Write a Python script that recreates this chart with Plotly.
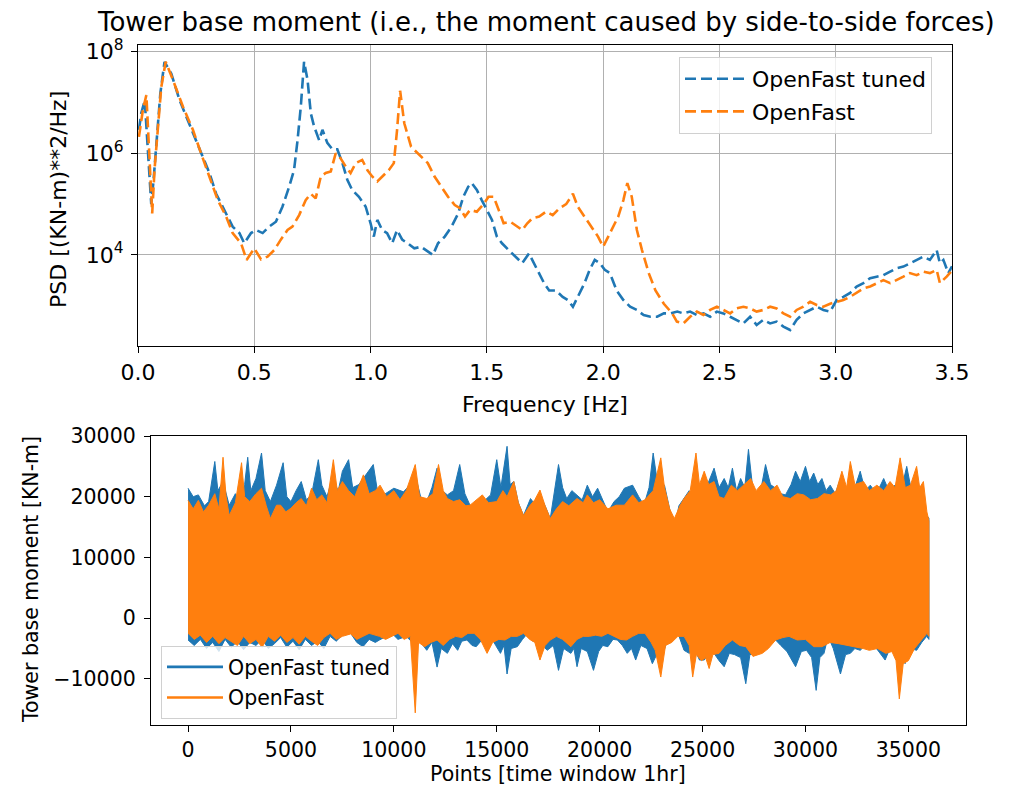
import plotly.graph_objects as go

# ---------------- PSD data ----------------
freq_tuned = [0.004, 0.014, 0.029, 0.039, 0.047, 0.057, 0.067, 0.081, 0.096, 0.114,
              0.143, 0.179, 0.214, 0.25, 0.279, 0.307, 0.336, 0.364, 0.386, 0.407,
              0.436, 0.457, 0.486, 0.507, 0.536, 0.564, 0.593, 0.621, 0.65, 0.671,
              0.686, 0.70, 0.714, 0.729, 0.743, 0.757, 0.779, 0.793, 0.814, 0.836,
              0.857, 0.879, 0.90, 0.921, 0.95, 0.979, 1.0, 1.014, 1.029, 1.05,
              1.071, 1.093, 1.114, 1.136, 1.159, 1.188, 1.217, 1.246, 1.268, 1.29,
              1.319, 1.348, 1.377, 1.399, 1.42, 1.435, 1.457, 1.478, 1.5, 1.522,
              1.543, 1.565, 1.594, 1.623, 1.652, 1.681, 1.703, 1.725, 1.746, 1.768,
              1.797, 1.826, 1.848, 1.87, 1.899, 1.92, 1.942, 1.964, 1.986, 2.007,
              2.029, 2.058, 2.087, 2.116, 2.145, 2.174, 2.203, 2.232, 2.261, 2.29,
              2.319, 2.345, 2.374, 2.403, 2.431, 2.46, 2.489, 2.517, 2.546, 2.574,
              2.603, 2.632, 2.66, 2.689, 2.718, 2.746, 2.775, 2.804, 2.832, 2.861,
              2.89, 2.918, 2.947, 2.976, 3.004, 3.033, 3.062, 3.09, 3.119, 3.148,
              3.176, 3.205, 3.234, 3.262, 3.291, 3.319, 3.348, 3.377, 3.405, 3.434,
              3.448, 3.463, 3.484, 3.5]
psd_tuned = [2.9e6, 6.1e6, 1.1e7, 2.1e6, 4.1e5, 1.0e5, 3.0e5, 2.1e6, 1.5e7, 6.3e7,
             3.7e7, 1.1e7, 4.5e6, 1.8e6, 8.6e5, 4.1e5, 1.6e5, 8.9e4, 5.7e4, 3.6e4,
             2.7e4, 1.7e4, 2.7e4, 3.1e4, 2.7e4, 3.6e4, 4.5e4, 8.9e4, 2.2e5, 4.7e5,
             1.8e6, 8.3e6, 6.3e7, 2.8e7, 6.1e6, 3.4e6, 1.8e6, 2.9e6, 1.6e6, 1.2e6,
             1.2e6, 6.4e5, 3.0e5, 1.9e5, 1.4e5, 8.9e4, 4.2e4, 2.3e4, 4.9e4, 3.1e4,
             2.7e4, 1.7e4, 3.1e4, 2.0e4, 1.7e4, 1.35e4, 1.45e4, 1.15e4, 1.0e4, 1.7e4,
             2.3e4, 3.6e4, 6.6e4, 1.4e5, 2.2e5, 2.6e5, 1.9e5, 1.2e5, 7.7e4, 4.9e4,
             2.3e4, 1.7e4, 1.25e4, 9.3e3, 6.9e3, 1.07e4, 6.9e3, 4.4e3, 2.8e3, 2.0e3,
             2.0e3, 1.5e3, 1.3e3, 9.6e2, 1.8e3, 2.8e3, 5.1e3, 8.0e3, 6.9e3, 5.1e3,
             4.4e3, 2.0e3, 1.3e3, 9.6e2, 8.3e2, 6.6e2, 6.1e2, 6.1e2, 7.1e2, 7.1e2,
             7.7e2, 7.1e2, 7.7e2, 6.6e2, 7.1e2, 6.1e2, 7.7e2, 7.1e2, 6.1e2, 5.3e2,
             4.5e2, 6.1e2, 4.2e2, 5.3e2, 4.5e2, 4.9e2, 3.9e2, 3.35e2, 5.3e2, 7.1e2,
             8.3e2, 9.6e2, 8.3e2, 7.7e2, 1.3e3, 1.5e3, 1.8e3, 2.4e3, 2.8e3, 3.5e3,
             3.75e3, 4.0e3, 4.7e3, 5.5e3, 5.9e3, 6.9e3, 8.0e3, 9.3e3, 8.0e3, 1.25e4,
             6.9e3, 8.0e3, 4.4e3, 6.0e3]

freq_base = [0.004, 0.021, 0.036, 0.044, 0.053, 0.061, 0.071, 0.086, 0.10, 0.119,
             0.15, 0.193, 0.236, 0.271, 0.307, 0.343, 0.379, 0.407, 0.443, 0.467,
             0.50, 0.529, 0.557, 0.586, 0.614, 0.643, 0.664, 0.693, 0.721, 0.743,
             0.764, 0.786, 0.807, 0.829, 0.85, 0.871, 0.893, 0.914, 0.936, 0.964,
             0.986, 1.007, 1.029, 1.05, 1.079, 1.10, 1.114, 1.127, 1.145, 1.174,
             1.217, 1.246, 1.275, 1.304, 1.333, 1.362, 1.384, 1.406, 1.428, 1.457,
             1.486, 1.507, 1.529, 1.551, 1.572, 1.601, 1.630, 1.652, 1.674, 1.696,
             1.725, 1.754, 1.783, 1.812, 1.841, 1.870, 1.891, 1.920, 1.949, 1.978,
             2.0, 2.022, 2.043, 2.065, 2.087, 2.104, 2.123, 2.145, 2.167, 2.196,
             2.225, 2.261, 2.297, 2.317, 2.345, 2.374, 2.403, 2.431, 2.46, 2.489,
             2.517, 2.546, 2.574, 2.603, 2.632, 2.66, 2.689, 2.718, 2.746, 2.775,
             2.804, 2.832, 2.861, 2.89, 2.918, 2.947, 2.976, 3.004, 3.033, 3.062,
             3.09, 3.119, 3.148, 3.176, 3.205, 3.234, 3.262, 3.291, 3.319, 3.348,
             3.377, 3.405, 3.434, 3.448, 3.477, 3.503]
psd_base = [2.1e6, 7.1e6, 1.4e7, 2.9e6, 4.1e5, 6.6e4, 4.7e5, 3.3e6, 2.0e7, 6.3e7,
            2.8e7, 8.3e6, 2.9e6, 1.0e6, 3.5e5, 1.2e5, 5.7e4, 2.7e4, 1.7e4, 8.0e3,
            1.35e4, 8.2e3, 9.3e3, 1.25e4, 2.0e4, 3.1e4, 3.6e4, 6.1e4, 1.2e5, 1.6e5,
            1.3e5, 3.5e5, 4.1e5, 4.4e5, 1.0e6, 8.0e5, 5.5e5, 4.1e5, 6.4e5, 7.4e5,
            4.7e5, 3.5e5, 2.8e5, 3.5e5, 4.7e5, 6.4e5, 2.9e6, 1.7e7, 3.9e6, 1.35e6,
            8.6e5, 6.4e5, 3.5e5, 2.2e5, 1.4e5, 9.6e4, 8.3e4, 5.7e4, 7.7e4, 7.1e4,
            1.0e5, 1.4e5, 1.4e5, 7.7e4, 4.2e4, 4.5e4, 3.6e4, 3.1e4, 4.2e4, 5.3e4,
            5.7e4, 7.1e4, 6.1e4, 8.3e4, 1.0e5, 1.6e5, 8.9e4, 5.7e4, 3.6e4, 2.3e4,
            1.45e4, 2.3e4, 3.6e4, 5.7e4, 1.2e5, 2.6e5, 1.4e5, 3.1e4, 1.25e4, 4.4e3,
            2.0e3, 1.1e3, 7.1e2, 4.9e2, 4.5e2, 6.1e2, 7.7e2, 6.6e2, 8.3e2, 9.6e2,
            8.3e2, 7.1e2, 8.9e2, 9.6e2, 8.9e2, 7.7e2, 8.3e2, 9.6e2, 8.9e2, 7.1e2,
            6.1e2, 8.3e2, 9.6e2, 1.2e3, 1.04e3, 9.6e2, 1.1e3, 1.2e3, 1.3e3, 1.5e3,
            1.8e3, 2.2e3, 2.4e3, 2.8e3, 3.2e3, 2.8e3, 3.2e3, 3.75e3, 4.4e3, 4.0e3,
            4.7e3, 4.4e3, 5.1e3, 2.8e3, 3.75e3, 5.1e3]

# ---------------- time-series envelopes ----------------
tuned_top_x = [0, 250, 500, 800, 1000, 1300, 1450, 1700, 2000, 2300, 2500, 2750, 2900, 3050, 3300, 3570, 3750,
               4000, 4300, 4620, 4800, 5000, 5250, 5500, 5750, 6000, 6330, 6500, 6750, 7000, 7300, 7500, 7800,
               8000, 8300, 8520, 9000, 9200, 9500, 10000, 10470, 10800, 11000, 11300, 11600, 11850, 12100,
               12350, 12600, 12900, 13200, 13450, 13700, 14200, 14450, 14700, 15000, 15200, 15500, 15650,
               15830, 16050, 16300, 16640, 16900, 17100, 17350, 17600, 17800, 18000, 18200, 18400, 18650,
               18900, 19150, 19400, 19650, 19900, 20150, 20400, 20700, 20950, 21200, 21600, 21900, 22150,
               22400, 22600, 22800, 23150, 23400, 23630, 23850, 24100, 24350, 24600, 24850, 25080, 25300,
               25560, 25800, 26050, 26250, 26450, 26650, 26850, 27050, 27230, 27450, 27660, 27850, 28060,
               28300, 28550, 28800, 29030, 29300, 29520, 29750, 30000, 30200, 30400, 30600, 30800, 31000,
               31200, 31450, 31700, 31950, 32180, 32400, 32660, 32900, 33150, 33450, 33800, 34050, 34350,
               34650, 34920, 35150, 35400, 35650, 35890, 35999]
tuned_top_y = [21400, 20000, 20300, 18500, 19200, 25800, 21000, 22500, 18600, 20500, 19700, 22000, 26500, 21000,
               23000, 27200, 21000, 19200, 21900, 25600, 20000, 19200, 21000, 22500, 19500, 20300, 26100, 21900,
               20000, 23000, 21000, 24200, 26100, 21500, 22000, 23000, 25300, 21000, 20300, 21400, 20800, 22000,
               24200, 20000, 19200, 21500, 24700, 21000, 20300, 21000, 25300, 20500, 18600, 18100, 19500, 20300,
               26100, 21500, 28300, 22000, 22500, 19000, 16900, 19700, 18500, 20300, 18500, 16400, 20500, 25300,
               21500, 19700, 21000, 20300, 19500, 21900, 20000, 21400, 19500, 17500, 19200, 20000, 21400, 21900,
               20000, 18600, 21500, 27200, 22500, 21900, 18000, 14700, 18500, 19700, 21000, 19200, 21500, 21900,
               22500, 24700, 21500, 23000, 21500, 24700, 21000, 23000, 21500, 27800, 21000, 19200, 21500, 25300,
               22000, 21400, 20500, 20300, 22000, 24200, 22500, 25000, 22500, 23900, 22000, 23000, 21000, 21900,
               20500, 23000, 21000, 21400, 21500, 24200, 21000, 21900, 20500, 23000, 21000, 21900, 21000, 25000,
               21000, 20300, 19500, 16900, 16500]
tuned_bot_x = [0, 300, 600, 900, 1200, 1500, 1800, 2100, 2400, 2700, 3000, 3300, 3600, 3900, 4200, 4500, 4800,
               5100, 5400, 5700, 6000, 6300, 6600, 6900, 7200, 7500, 7900, 8200, 8500, 8800, 9100, 9300, 9600,
               9900, 10200, 10600, 10900, 11200, 11600, 11850, 12100, 12300, 12600, 12850, 13100, 13300, 13550,
               13800, 14000, 14300, 14700, 14950, 15180, 15350, 15500, 15700, 16000, 16250, 16500, 16750, 17000,
               17250, 17450, 17750, 18000, 18250, 18600, 18750, 18900, 19100, 19400, 19700, 19950, 20150, 20400,
               20650, 20860, 21100, 21340, 21550, 21750, 22000, 22300, 22560, 22800, 23130, 23400, 23650, 23850,
               24100, 24350, 24600, 24850, 25080, 25300, 25560, 25800, 26050, 26300, 26550, 26850, 27100, 27300,
               27660, 27900, 28060, 28300, 28550, 28800, 29100, 29520, 29800, 30050, 30300, 30520, 30700, 30900,
               31100, 31350, 31700, 31950, 32180, 32400, 32660, 32900, 33150, 33450, 33870, 34100, 34350, 34600,
               34840, 35100, 35400, 35650, 35890, 35999]
tuned_bot_y = [-3600, -4500, -3500, -5000, -4000, -5500, -3500, -4800, -3800, -5200, -4000, -4500, -3500, -5000,
               -4200, -3200, -4800, -3800, -5200, -3500, -4500, -3800, -5000, -3000, -3800, -2800, -2500, -4000,
               -4700, -3500, -4000, -3600, -3000, -2500, -3500, -3000, -4000, -3500, -5300, -4000, -8060, -5000,
               -5800, -4200, -5300, -3800, -3600, -4500, -4700, -3500, -3000, -4500, -5800, -4500, -9200, -5000,
               -4700, -3500, -2500, -3800, -3600, -4500, -5300, -4500, -8600, -5000, -5800, -5000, -8000, -5000,
               -5500, -8600, -5500, -4500, -4700, -3500, -3600, -4500, -5800, -5000, -6900, -4500, -5000, -7500,
               -5800, -5300, -2500, -1000, -3000, -5300, -5800, -5000, -6900, -6900, -5800, -5800, -7000, -8000,
               -5800, -6000, -6500, -10800, -6000, -5800, -5000, -4700, -4200, -3600, -4500, -5500, -8000, -5500,
               -5300, -6500, -11900, -6500, -5800, -3000, -5000, -9200, -6000, -5800, -5000, -5300, -4500, -4200,
               -5000, -6900, -5000, -5300, -5000, -7500, -5000, -5300, -4000, -3000, -3500]

base_top_x = [0, 250, 500, 750, 1000, 1300, 1500, 1700, 1850, 2000, 2300, 2600, 2750, 3000, 3300, 3570, 3800,
              4000, 4300, 4500, 4750, 5000, 5250, 5500, 5750, 6000, 6250, 6500, 6750, 7060, 7250, 7500, 7800,
              8100, 8520, 8800, 9100, 9330, 9650, 10000, 10300, 10600, 11040, 11250, 11600, 11900, 12170, 12400,
              12600, 12900, 13200, 13500, 13700, 14000, 14300, 14600, 15000, 15300, 15500, 15830, 16050, 16300,
              16600, 16850, 17100, 17350, 17600, 17900, 18200, 18500, 18900, 19200, 19400, 19700, 20000, 20400,
              20800, 21200, 21600, 21900, 22200, 22600, 22970, 23150, 23400, 23630, 23900, 24100, 24400, 24680,
              24850, 25080, 25300, 25560, 25800, 26050, 26400, 26700, 27000, 27340, 27600, 27980, 28300, 28620,
              28900, 29270, 29600, 29920, 30250, 30580, 30900, 31230, 31500, 31770, 32000, 32180, 32400, 32820,
              33100, 33470, 33800, 34110, 34350, 34600, 34850, 35100, 35400, 35550, 35730, 35900, 35999]
base_top_y = [19400, 18000, 19400, 17500, 18600, 20500, 18000, 26500, 20000, 16900, 19000, 25600, 20000, 19200,
              20500, 21400, 18500, 16400, 18600, 18600, 17500, 18100, 19000, 19700, 18500, 21400, 19500, 20300,
              19000, 26100, 21000, 22500, 21000, 20000, 23600, 20500, 21000, 21900, 20000, 21000, 19500, 21000,
              25300, 20000, 19700, 20500, 25300, 21000, 19700, 19200, 19500, 18500, 18600, 19500, 20300, 19000,
              19200, 21000, 20000, 22500, 19000, 16900, 18500, 19500, 21100, 18500, 16400, 18000, 19200, 18500,
              19700, 19000, 20300, 19000, 19500, 18000, 18600, 18600, 20300, 19000, 19500, 21000, 26400, 21500,
              18000, 16400, 18500, 19700, 21000, 27200, 22000, 24200, 22000, 22500, 20000, 19700, 21900, 21000,
              22000, 23000, 21000, 22500, 21000, 21900, 20000, 19700, 20500, 20300, 19500, 19700, 20500, 20300,
              21000, 24200, 21500, 25800, 22000, 22500, 21000, 21900, 21000, 22500, 21500, 26400, 21500, 21900,
              25000, 21500, 22500, 17500, 16000]
base_bot_x = [0, 300, 600, 900, 1200, 1500, 1800, 2100, 2400, 2700, 3000, 3300, 3600, 3900, 4200, 4500, 4800,
              5100, 5400, 5700, 6000, 6300, 6600, 6900, 7200, 7500, 7900, 8200, 8500, 8800, 9300, 9600, 9900,
              10200, 10500, 10800, 11040, 11200, 11500, 11800, 12100, 12400, 12700, 13000, 13300, 13600, 13900,
              14200, 14530, 14800, 15100, 15400, 15700, 16000, 16300, 16600, 16850, 17100, 17350, 17600, 17900,
              18200, 18600, 18900, 19200, 19500, 19800, 20100, 20400, 20700, 21000, 21300, 21600, 21900, 22200,
              22500, 22700, 22970, 23200, 23500, 23800, 24100, 24350, 24520, 24700, 24950, 25150, 25320, 25500,
              25800, 26100, 26450, 26800, 27100, 27450, 27900, 28200, 28550, 28900, 29200, 29600, 30000, 30400,
              30800, 31200, 31600, 32000, 32400, 32800, 33100, 33500, 33900, 34200, 34400, 34560, 34750, 35000,
              35300, 35650, 35900, 35999]
base_bot_y = [-2500, -3500, -2800, -4000, -3000, -4200, -3200, -3800, -4500, -3000, -4200, -3500, -4800, -3000,
              -3800, -2800, -4000, -3200, -4300, -3000, -3800, -4500, -3200, -2500, -3500, -3000, -2600, -3500,
              -3000, -2500, -3000, -3500, -3000, -2500, -3500, -3000, -15600, -4000, -4700, -4000, -3600, -4500,
              -3500, -3000, -3200, -2500, -2500, -3500, -5800, -4000, -3500, -3600, -3000, -3000, -2500, -3500,
              -4000, -6900, -4500, -3600, -3000, -3500, -4700, -3500, -3000, -3000, -2800, -3000, -2500, -3000,
              -3500, -3600, -3000, -2500, -2500, -4000, -5300, -9700, -4500, -4000, -3000, -3000, -4500, -9700,
              -6000, -7000, -6500, -8300, -6000, -5800, -4500, -3600, -4500, -4700, -6300, -5800, -5000, -3600,
              -3200, -3000, -3600, -3500, -4700, -4700, -4000, -4200, -4500, -4700, -5000, -5300, -5000, -5800,
              -5500, -7000, -13300, -7500, -7000, -5000, -3600, -2500, -3000]

series_names = ["OpenFast tuned", "OpenFast"]
colors = ["#1f77b4", "#ff7f0e"]

freq_ticks = [0.0, 0.5, 1.0, 1.5, 2.0, 2.5, 3.0, 3.5]
psd_ticks = [1e4, 1e6, 1e8]
pts_ticks = [0, 5000, 10000, 15000, 20000, 25000, 30000, 35000]
mom_ticks = [-10000, 0, 10000, 20000, 30000]

W, H = 1036, 788
FONT = "DejaVu Sans"
TOP_FS = 22
BOT_FS = 20.5
fig = go.Figure()

# PSD traces
for fx, py, nm, c in [(freq_tuned, psd_tuned, series_names[0], colors[0]),
                      (freq_base, psd_base, series_names[1], colors[1])]:
    fig.add_trace(go.Scatter(x=fx, y=py, mode="lines", name=nm,
                             line=dict(color=c, width=2.6, dash="11px,5px"),
                             xaxis="x", yaxis="y", legend="legend", legendgroup="a" + nm))

# Time-series bands
for tx, ty, bx, by, nm, c in [(tuned_top_x, tuned_top_y, tuned_bot_x, tuned_bot_y, series_names[0], colors[0]),
                              (base_top_x, base_top_y, base_bot_x, base_bot_y, series_names[1], colors[1])]:
    fig.add_trace(go.Scatter(x=tx + bx[::-1], y=ty + by[::-1], mode="lines", fill="toself",
                             fillcolor=c, line=dict(color=c, width=1), showlegend=False,
                             xaxis="x2", yaxis="y2", hoverinfo="skip"))
for nm, c in zip(series_names, colors):
    fig.add_trace(go.Scatter(x=[None], y=[None], mode="lines", name=nm,
                             line=dict(color=c, width=2.6), xaxis="x2", yaxis="y2",
                             legend="legend2", legendgroup="b" + nm))


def axis_common(fs):
    return dict(showline=True, linecolor="black", linewidth=1.3, mirror=True,
                ticks="outside", ticklen=6, tickwidth=1.3, tickcolor="black",
                zeroline=False, automargin=False,
                tickfont=dict(family=FONT, size=fs, color="black"))


x1 = [138 / W, 952 / W]
y1 = [1 - 346 / H, 1 - 45 / H]
x2 = [151 / W, 966 / W]
y2 = [1 - 725 / H, 1 - 436 / H]

fig.update_layout(
    width=W, height=H, margin=dict(l=0, r=0, t=0, b=0, autoexpand=False),
    paper_bgcolor="white", plot_bgcolor="white",
    font=dict(family=FONT, size=20, color="black"),
    xaxis=dict(domain=x1, range=[0, 3.5], tickvals=freq_ticks,
               ticktext=["%.1f" % v for v in freq_ticks],
               showgrid=True, gridcolor="#b0b0b0", gridwidth=1.2, anchor="y", **axis_common(TOP_FS)),
    yaxis=dict(domain=y1, type="log", range=[2.21, 8.13], tickvals=psd_ticks,
               ticktext=["10<sup>4</sup>", "10<sup>6</sup>", "10<sup>8</sup>"],
               showgrid=True, gridcolor="#b0b0b0", gridwidth=1.2, anchor="x",
               ticklabelstandoff=3, **axis_common(TOP_FS)),
    xaxis2=dict(domain=x2, range=[-1800, 37800], tickvals=pts_ticks,
                ticktext=[str(v) for v in pts_ticks], showgrid=False, anchor="y2", **axis_common(BOT_FS)),
    yaxis2=dict(domain=y2, range=[-17600, 30000], tickvals=mom_ticks,
                ticktext=[("\u2212" + str(-v)) if v < 0 else str(v) for v in mom_ticks],
                showgrid=False, anchor="x2", ticklabelstandoff=4, **axis_common(BOT_FS)),
    legend=dict(x=679 / W, y=1 - 57 / H, xanchor="left", yanchor="top",
                bgcolor="rgba(255,255,255,0.8)", bordercolor="#d0d0d0", borderwidth=1,
                font=dict(family=FONT, size=TOP_FS, color="black"), tracegroupgap=1,
                itemwidth=62),
    legend2=dict(x=161 / W, y=1 - 646 / H, xanchor="left", yanchor="top",
                 bgcolor="rgba(255,255,255,0.8)", bordercolor="#d0d0d0", borderwidth=1,
                 font=dict(family=FONT, size=BOT_FS, color="black"), tracegroupgap=1,
                 itemwidth=56),
    showlegend=True,
)

ann = dict(xref="paper", yref="paper", showarrow=False)
fig.add_annotation(text="Tower base moment (i.e., the moment caused by side-to-side forces)",
                   x=546 / W, y=1 - 22 / H, xanchor="center", yanchor="middle",
                   font=dict(family=FONT, size=26, color="black"), **ann)
fig.add_annotation(text="Frequency [Hz]", x=545 / W, y=1 - 404 / H, xanchor="center", yanchor="middle",
                   font=dict(family=FONT, size=TOP_FS, color="black"), **ann)
fig.add_annotation(text="PSD [(KN-m)**2/Hz]", x=58 / W, y=1 - 200 / H, xanchor="center", yanchor="middle",
                   textangle=-90, font=dict(family=FONT, size=TOP_FS, color="black"), **ann)
fig.add_annotation(text="Tower base moment [KN-m]", x=31 / W, y=1 - 580 / H, xanchor="center",
                   yanchor="middle", textangle=-90, font=dict(family=FONT, size=BOT_FS, color="black"), **ann)
fig.add_annotation(text="Points [time window 1hr]", x=558 / W, y=1 - 774 / H, xanchor="center",
                   yanchor="middle", font=dict(family=FONT, size=BOT_FS, color="black"), **ann)

fig.write_html("out.html")
